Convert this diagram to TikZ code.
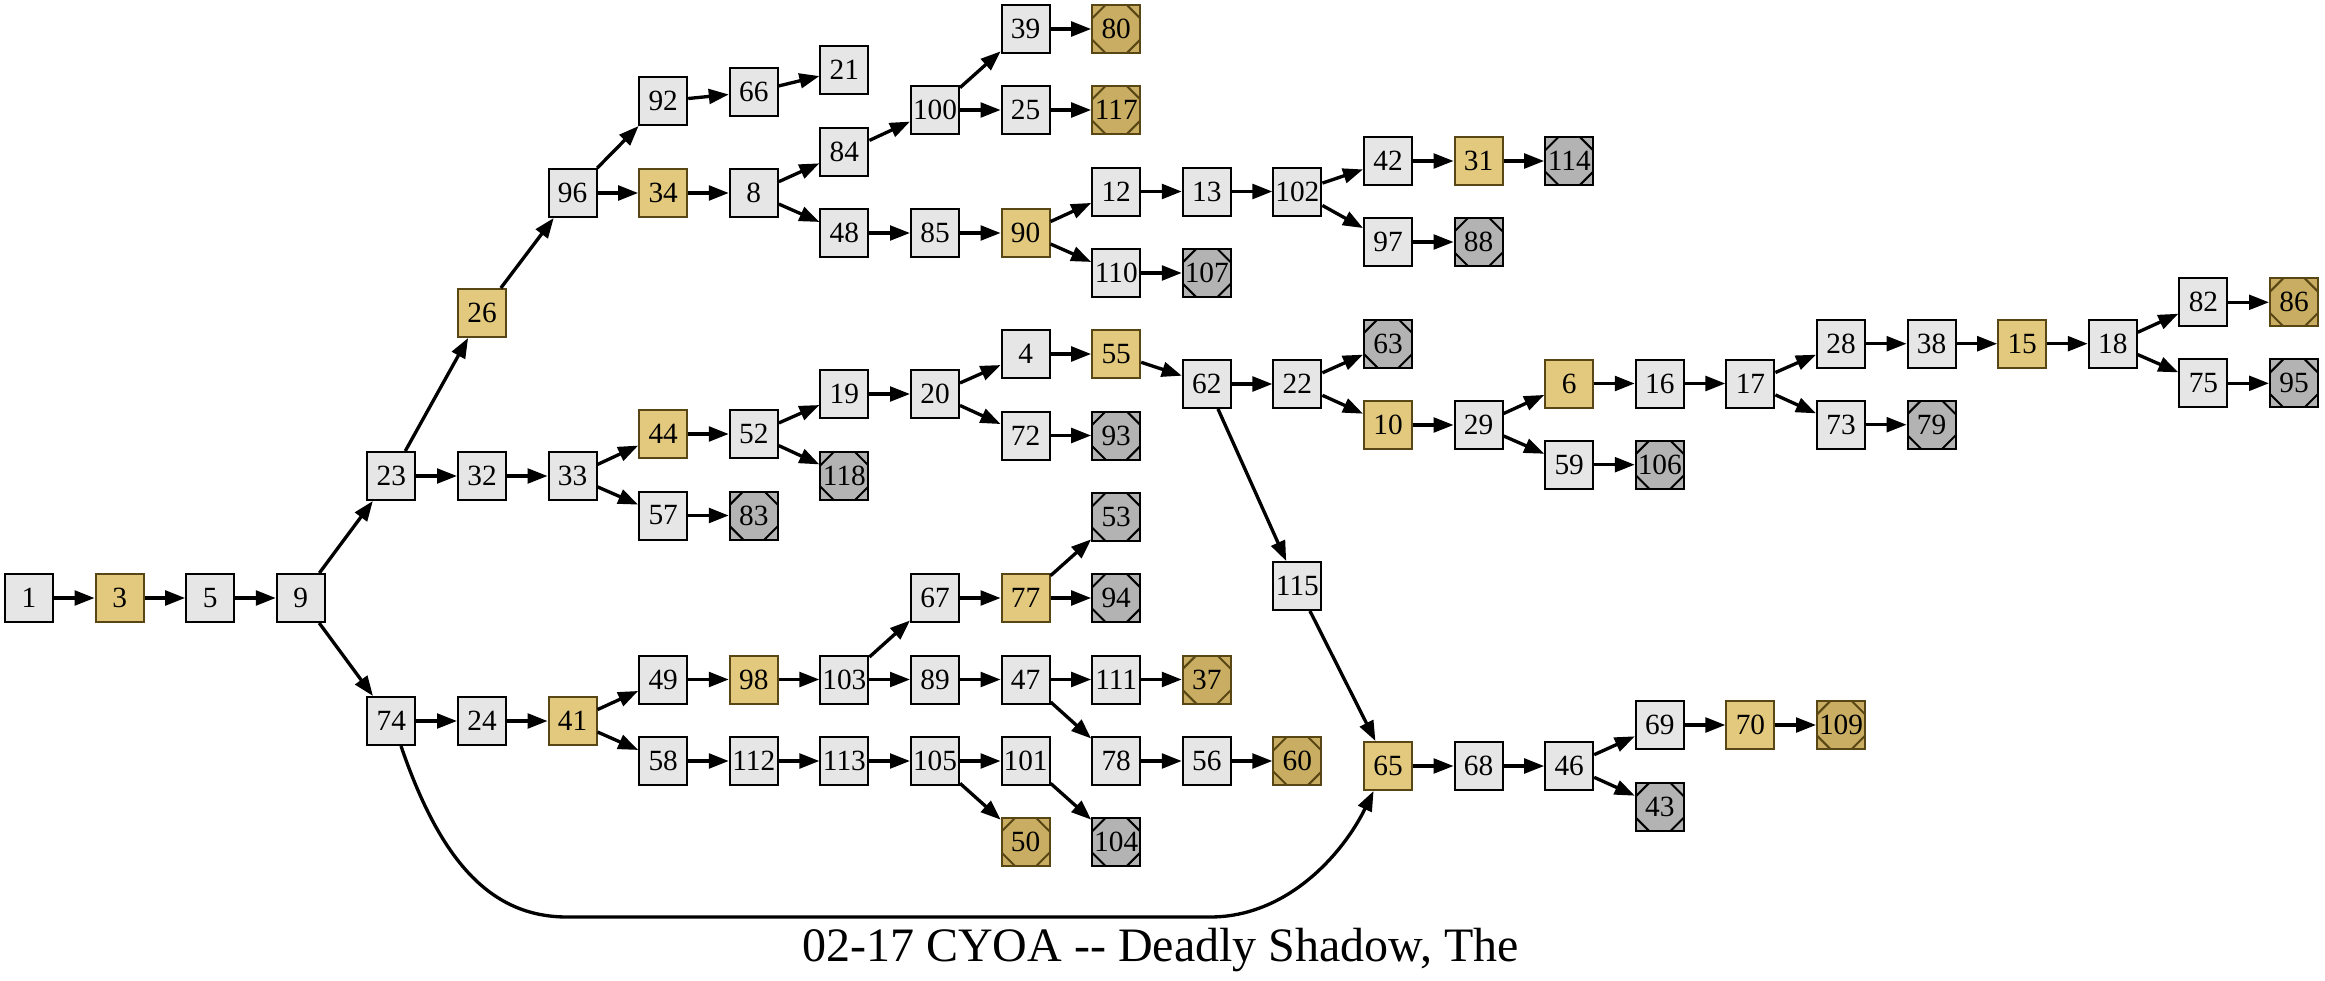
\documentclass[tikz,border=0pt]{standalone}
\usepackage{fontspec}
\setmainfont{Liberation Serif}
\usepackage{tikz}
\usetikzlibrary{arrows.meta}
\definecolor{pagebg}{RGB}{230,230,230}
\definecolor{choicebg}{RGB}{226,201,125}
\definecolor{goodbg}{RGB}{200,173,98}
\definecolor{goldline}{RGB}{88,70,20}
\definecolor{badbg}{RGB}{179,179,179}
\newcommand{\nodefont}{\fontsize{22}{22}\selectfont}
\newcommand{\titlefont}{\fontsize{36}{36}\selectfont}
\tikzset{
  page/.style={draw=black,fill=pagebg,line width=1.5pt,minimum size=36pt,inner sep=0pt,font=\nodefont},
  choice/.style={page,fill=choicebg,draw=goldline},
  cutcorners/.style={path picture={
    \draw[#1,line width=1.5pt]
      ([xshift=10pt]path picture bounding box.north west) -- ([yshift=-10pt]path picture bounding box.north west)
      ([xshift=-10pt]path picture bounding box.north east) -- ([yshift=-10pt]path picture bounding box.north east)
      ([xshift=10pt]path picture bounding box.south west) -- ([yshift=10pt]path picture bounding box.south west)
      ([xshift=-10pt]path picture bounding box.south east) -- ([yshift=10pt]path picture bounding box.south east);}},
  goodend/.style={page,fill=goodbg,draw=goldline,cutcorners=goldline},
  badend/.style={page,fill=badbg,cutcorners=black},
  goto/.style={-{Triangle[length=15pt,width=11pt]},line width=2.5pt}
}

\begin{document}
\begin{tikzpicture}[x=67.95pt,y=-0.75pt]
  \useasboundingbox (-0.3201,0) rectangle (25.3422,981);
  % 列 0--6
  \node[page] (p1) at (0,598) {1};
  \node[choice] (p3) at (1,598) {3};
  \node[page] (p5) at (2,598) {5};
  \node[page] (p9) at (3,598) {9};
  \node[page] (p23) at (4,476) {23};
  \node[page] (p74) at (4,721) {74};
  \node[choice] (p26) at (5,313) {26};
  \node[page] (p32) at (5,476) {32};
  \node[page] (p24) at (5,721) {24};
  \node[page] (p96) at (6,193) {96};
  \node[page] (p33) at (6,476) {33};
  \node[choice] (p41) at (6,721) {41};
  % 列 7--9
  \node[page] (p92) at (7,101) {92};
  \node[choice] (p34) at (7,193) {34};
  \node[choice] (p44) at (7,434) {44};
  \node[page] (p57) at (7,515.5) {57};
  \node[page] (p49) at (7,679.5) {49};
  \node[page] (p58) at (7,761) {58};
  \node[page] (p66) at (8,92) {66};
  \node[page] (p8) at (8,193) {8};
  \node[page] (p52) at (8,434) {52};
  \node[badend] (p83) at (8,515.5) {83};
  \node[choice] (p98) at (8,679.5) {98};
  \node[page] (p112) at (8,761) {112};
  \node[page] (p21) at (9,70) {21};
  \node[page] (p84) at (9,152) {84};
  \node[page] (p48) at (9,233) {48};
  \node[page] (p19) at (9,394) {19};
  \node[badend] (p118) at (9,476) {118};
  \node[page] (p103) at (9,679.5) {103};
  \node[page] (p113) at (9,761) {113};
  % 列 10--12
  \node[page] (p100) at (10,110) {100};
  \node[page] (p85) at (10,233) {85};
  \node[page] (p20) at (10,394) {20};
  \node[page] (p67) at (10,598) {67};
  \node[page] (p89) at (10,679.5) {89};
  \node[page] (p105) at (10,761) {105};
  \node[page] (p39) at (11,29) {39};
  \node[page] (p25) at (11,110) {25};
  \node[choice] (p90) at (11,233) {90};
  \node[page] (p4) at (11,354) {4};
  \node[page] (p72) at (11,435.5) {72};
  \node[choice] (p77) at (11,598) {77};
  \node[page] (p47) at (11,679.5) {47};
  \node[page] (p101) at (11,761) {101};
  \node[goodend] (p50) at (11,842) {50};
  \node[goodend] (p80) at (12,29) {80};
  \node[goodend] (p117) at (12,110) {117};
  \node[page] (p12) at (12,191.5) {12};
  \node[page] (p110) at (12,273) {110};
  \node[choice] (p55) at (12,354) {55};
  \node[badend] (p93) at (12,435.5) {93};
  \node[badend] (p53) at (12,517) {53};
  \node[badend] (p94) at (12,598) {94};
  \node[page] (p111) at (12,679.5) {111};
  \node[page] (p78) at (12,761) {78};
  \node[badend] (p104) at (12,842) {104};
  % 列 13--16
  \node[page] (p13) at (13,191.5) {13};
  \node[badend] (p107) at (13,273) {107};
  \node[page] (p62) at (13,384) {62};
  \node[goodend] (p37) at (13,679.5) {37};
  \node[page] (p56) at (13,761) {56};
  \node[page] (p102) at (14,191.5) {102};
  \node[page] (p22) at (14,384) {22};
  \node[page] (p115) at (14,586) {115};
  \node[goodend] (p60) at (14,761) {60};
  \node[page] (p42) at (15,161) {42};
  \node[page] (p97) at (15,242) {97};
  \node[badend] (p63) at (15,343.5) {63};
  \node[choice] (p10) at (15,425) {10};
  \node[choice] (p65) at (15,766) {65};
  \node[choice] (p31) at (16,161) {31};
  \node[badend] (p88) at (16,242) {88};
  \node[page] (p29) at (16,425) {29};
  \node[page] (p68) at (16,766) {68};
  % 列 17--25
  \node[badend] (p114) at (17,161) {114};
  \node[choice] (p6) at (17,383.5) {6};
  \node[page] (p59) at (17,464.7) {59};
  \node[page] (p46) at (17,766) {46};
  \node[page] (p16) at (18,383.5) {16};
  \node[badend] (p106) at (18,464.7) {106};
  \node[page] (p69) at (18,725) {69};
  \node[badend] (p43) at (18,807) {43};
  \node[page] (p17) at (19,383.5) {17};
  \node[choice] (p70) at (19,725) {70};
  \node[page] (p28) at (20,343.7) {28};
  \node[page] (p73) at (20,424.7) {73};
  \node[goodend] (p109) at (20,725) {109};
  \node[page] (p38) at (21,343.7) {38};
  \node[badend] (p79) at (21,424.7) {79};
  \node[choice] (p15) at (22,343.7) {15};
  \node[page] (p18) at (23,343.7) {18};
  \node[page] (p82) at (24,302.3) {82};
  \node[page] (p75) at (24,383.3) {75};
  \node[goodend] (p86) at (25,302.3) {86};
  \node[badend] (p95) at (25,383.3) {95};
  % 辺：幹
  \draw[goto] (p1) -- (p3);
  \draw[goto] (p3) -- (p5);
  \draw[goto] (p5) -- (p9);
  \draw[goto] (p9) -- (p23);
  \draw[goto] (p9) -- (p74);
  % 辺：上の枝
  \draw[goto] (p23) -- (p26);
  \draw[goto] (p26) -- (p96);
  \draw[goto] (p96) -- (p92);
  \draw[goto] (p96) -- (p34);
  \draw[goto] (p92) -- (p66);
  \draw[goto] (p66) -- (p21);
  \draw[goto] (p34) -- (p8);
  \draw[goto] (p8) -- (p84);
  \draw[goto] (p8) -- (p48);
  \draw[goto] (p84) -- (p100);
  \draw[goto] (p100) -- (p39);
  \draw[goto] (p100) -- (p25);
  \draw[goto] (p39) -- (p80);
  \draw[goto] (p25) -- (p117);
  \draw[goto] (p48) -- (p85);
  \draw[goto] (p85) -- (p90);
  \draw[goto] (p90) -- (p12);
  \draw[goto] (p90) -- (p110);
  \draw[goto] (p110) -- (p107);
  \draw[goto] (p12) -- (p13);
  \draw[goto] (p13) -- (p102);
  \draw[goto] (p102) -- (p42);
  \draw[goto] (p102) -- (p97);
  \draw[goto] (p42) -- (p31);
  \draw[goto] (p31) -- (p114);
  \draw[goto] (p97) -- (p88);
  % 辺：中の枝
  \draw[goto] (p23) -- (p32);
  \draw[goto] (p32) -- (p33);
  \draw[goto] (p33) -- (p44);
  \draw[goto] (p33) -- (p57);
  \draw[goto] (p57) -- (p83);
  \draw[goto] (p44) -- (p52);
  \draw[goto] (p52) -- (p19);
  \draw[goto] (p52) -- (p118);
  \draw[goto] (p19) -- (p20);
  \draw[goto] (p20) -- (p4);
  \draw[goto] (p20) -- (p72);
  \draw[goto] (p72) -- (p93);
  \draw[goto] (p4) -- (p55);
  \draw[goto] (p55) -- (p62);
  \draw[goto] (p62) -- (p22);
  \draw[goto] (p62) -- (p115);
  \draw[goto] (p22) -- (p63);
  \draw[goto] (p22) -- (p10);
  \draw[goto] (p10) -- (p29);
  \draw[goto] (p29) -- (p6);
  \draw[goto] (p29) -- (p59);
  \draw[goto] (p59) -- (p106);
  \draw[goto] (p6) -- (p16);
  \draw[goto] (p16) -- (p17);
  \draw[goto] (p17) -- (p28);
  \draw[goto] (p17) -- (p73);
  \draw[goto] (p73) -- (p79);
  \draw[goto] (p28) -- (p38);
  \draw[goto] (p38) -- (p15);
  \draw[goto] (p15) -- (p18);
  \draw[goto] (p18) -- (p82);
  \draw[goto] (p18) -- (p75);
  \draw[goto] (p82) -- (p86);
  \draw[goto] (p75) -- (p95);
  % 辺：下の枝
  \draw[goto] (p74) -- (p24);
  \draw[goto] (p24) -- (p41);
  \draw[goto] (p41) -- (p49);
  \draw[goto] (p41) -- (p58);
  \draw[goto] (p49) -- (p98);
  \draw[goto] (p98) -- (p103);
  \draw[goto] (p103) -- (p67);
  \draw[goto] (p103) -- (p89);
  \draw[goto] (p67) -- (p77);
  \draw[goto] (p77) -- (p53);
  \draw[goto] (p77) -- (p94);
  \draw[goto] (p89) -- (p47);
  \draw[goto] (p47) -- (p111);
  \draw[goto] (p47) -- (p78);
  \draw[goto] (p111) -- (p37);
  \draw[goto] (p78) -- (p56);
  \draw[goto] (p56) -- (p60);
  \draw[goto] (p58) -- (p112);
  \draw[goto] (p112) -- (p113);
  \draw[goto] (p113) -- (p105);
  \draw[goto] (p105) -- (p101);
  \draw[goto] (p105) -- (p50);
  \draw[goto] (p101) -- (p104);
  \draw[goto] (p115) -- (p65);
  \draw[goto] (p74.-69) .. controls (4.536,860) and (5.088,917) .. (5.938,917)
    -- (13.035,917) .. controls (13.918,917) and (14.525,850) .. (p65.-120);
  \draw[goto] (p65) -- (p68);
  \draw[goto] (p68) -- (p46);
  \draw[goto] (p46) -- (p69);
  \draw[goto] (p46) -- (p43);
  \draw[goto] (p69) -- (p70);
  \draw[goto] (p70) -- (p109);
  % 表題
  \node[font=\titlefont,anchor=base] (title) at (12.49,961) {02-17 CYOA -{}- Deadly Shadow, The};
\end{tikzpicture}
\end{document}
